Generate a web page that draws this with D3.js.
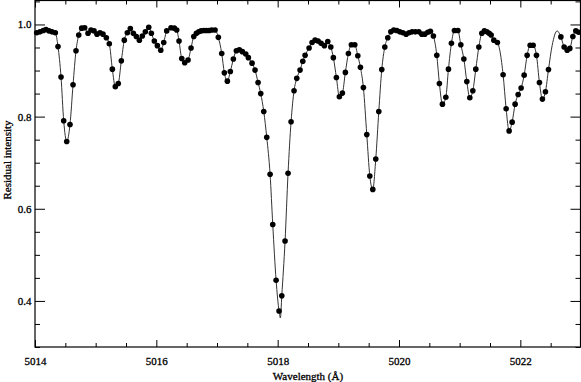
<!DOCTYPE html>
<html>
<head>
<meta charset="utf-8">
<script src="https://cdn.jsdelivr.net/npm/d3@7"></script>
<style>
  body { margin: 0; background: #fff; }
  svg { display: block; }
  .tick text, .title { font-family: "Liberation Serif", "DejaVu Serif", serif; font-size: 11px; fill: #000; stroke: #000; stroke-width: 0.3; }
  .tick line { stroke: #000; stroke-width: 1; }
</style>
</head>
<body>
<svg id="chart" width="581" height="382"></svg>
<script>
// observed spectrum, wavelength in Angstrom
var wave = [
  5014.028, 5014.082, 5014.137, 5014.181, 5014.231, 5014.280, 5014.335, 5014.379, 5014.429, 5014.473,
  5014.523, 5014.577, 5014.627, 5014.676, 5014.721, 5014.770, 5014.819, 5014.874, 5014.923, 5014.973,
  5015.022, 5015.072, 5015.121, 5015.176, 5015.225, 5015.275, 5015.324, 5015.373, 5015.423, 5015.472,
  5015.522, 5015.571, 5015.621, 5015.670, 5015.720, 5015.769, 5015.819, 5015.875, 5015.918, 5015.967,
  5016.017, 5016.073, 5016.122, 5016.171, 5016.242, 5016.297, 5016.336, 5016.374, 5016.419, 5016.468,
  5016.523, 5016.572, 5016.617, 5016.660, 5016.699, 5016.737, 5016.782, 5016.824, 5016.869, 5016.913,
  5016.968, 5017.022, 5017.078, 5017.121, 5017.171, 5017.220, 5017.270, 5017.319, 5017.368, 5017.418,
  5017.474, 5017.517, 5017.578, 5017.627, 5017.677, 5017.721, 5017.771, 5017.820, 5017.875, 5017.919,
  5017.974, 5018.023, 5018.068, 5018.122, 5018.171, 5018.221, 5018.270, 5018.315, 5018.369, 5018.414,
  5018.452, 5018.518, 5018.567, 5018.617, 5018.666, 5018.716, 5018.770, 5018.826, 5018.876, 5018.918,
  5018.968, 5019.017, 5019.067, 5019.116, 5019.166, 5019.215, 5019.271, 5019.321, 5019.364, 5019.413,
  5019.469, 5019.519, 5019.568, 5019.617, 5019.667, 5019.716, 5019.766, 5019.815, 5019.865, 5019.914,
  5019.964, 5020.013, 5020.063, 5020.117, 5020.167, 5020.216, 5020.270, 5020.327, 5020.376, 5020.425,
  5020.475, 5020.518, 5020.567, 5020.623, 5020.666, 5020.716, 5020.772, 5020.815, 5020.864, 5020.914,
  5020.970, 5021.019, 5021.069, 5021.118, 5021.167, 5021.217, 5021.266, 5021.316, 5021.365, 5021.408,
  5021.448, 5021.486, 5021.519, 5021.563, 5021.622, 5021.716, 5021.766, 5021.815, 5021.865, 5021.914,
  5021.964, 5022.013, 5022.063, 5022.112, 5022.162, 5022.211, 5022.266, 5022.315, 5022.364, 5022.414,
  5022.464, 5022.668, 5022.722, 5022.772, 5022.816, 5022.866, 5022.915, 5022.960
];
var flux = [
  0.982, 0.984, 0.987, 0.989, 0.986, 0.984, 0.982, 0.952, 0.886, 0.791,
  0.746, 0.783, 0.869, 0.943, 0.977, 0.992, 0.993, 0.981, 0.988, 0.986,
  0.979, 0.982, 0.979, 0.971, 0.958, 0.903, 0.865, 0.872, 0.921, 0.966,
  0.982, 0.991, 0.981, 0.974, 0.966, 0.975, 0.984, 0.994, 0.981, 0.964,
  0.954, 0.944, 0.961, 0.986, 0.993, 0.992, 0.988, 0.964, 0.926, 0.917,
  0.923, 0.949, 0.974, 0.981, 0.984, 0.986, 0.987, 0.987, 0.987, 0.988,
  0.988, 0.972, 0.937, 0.895, 0.877, 0.898, 0.925, 0.943, 0.945, 0.941,
  0.936, 0.928, 0.916, 0.901, 0.874, 0.850, 0.811, 0.755, 0.675, 0.566,
  0.445, 0.378, 0.411, 0.530, 0.677, 0.789, 0.856, 0.883, 0.901, 0.920,
  0.933, 0.949, 0.961, 0.966, 0.964, 0.959, 0.954, 0.963, 0.951, 0.928,
  0.885, 0.843, 0.851, 0.896, 0.937, 0.956, 0.956, 0.932, 0.907, 0.863,
  0.761, 0.671, 0.642, 0.708, 0.811, 0.902, 0.951, 0.971, 0.984, 0.988,
  0.987, 0.984, 0.982, 0.979, 0.982, 0.984, 0.984, 0.984, 0.979, 0.979,
  0.983, 0.985, 0.975, 0.933, 0.872, 0.827, 0.842, 0.903, 0.959, 0.987,
  0.987, 0.956, 0.925, 0.876, 0.841, 0.856, 0.903, 0.951, 0.981, 0.986,
  0.984, 0.981, 0.977, 0.966, 0.961, 0.891, 0.817, 0.769, 0.788, 0.827,
  0.848, 0.862, 0.890, 0.933, 0.955, 0.955, 0.933, 0.874, 0.838, 0.854,
  0.902, 0.973, 0.951, 0.944, 0.948, 0.974, 0.986, 0.983
];

// model points that differ from the observed ones (line core, gap in the data)
var modelExtraWave = [5014.000, 5018.045, 5022.524, 5022.607, 5023.000];
var modelExtraFlux = [0.983, 0.363, 0.954, 0.986, 0.982];

var xMajor = [5014, 5016, 5018, 5020, 5022];
var yMajor = [0.4, 0.6, 0.8, 1.0];

var svg = d3.select('#chart'),
	padLeft = 35, padRight = 581, padTop = 0.5, padBottom = 347,
	x = d3.scaleLinear().domain([5014, 5023]).range([padLeft, padRight]),
	y = d3.scaleLinear().domain([0.3, 1.052]).range([padBottom, padTop]);

var obs = wave.map(function(w, i) { return {w: w, f: flux[i]}; });
var model = obs.concat(modelExtraWave.map(function(w, i) { return {w: w, f: modelExtraFlux[i]}; }))
	.sort(function(a, b) { return a.w - b.w; });

var plot = svg.append('g');

plot.append('path')
	.datum(model)
	.attr('fill', 'none')
	.attr('stroke', '#333')
	.attr('stroke-width', 1)
	.attr('d', d3.line()
		.x(function(d) { return x(d.w); })
		.y(function(d) { return y(d.f); })
		.curve(d3.curveMonotoneX));

plot.selectAll('circle')
	.data(obs)
	.enter().append('circle')
		.attr('cx', function(d) { return x(d.w); })
		.attr('cy', function(d) { return y(d.f); })
		.attr('r', 2.8)
		.attr('fill', '#000');

// axes, ticks point inward on all four sides
var xMinor = x.ticks(18).filter(function(d) { return xMajor.indexOf(d) === -1; }),
	yMinor = y.ticks(15).filter(function(d) { return yMajor.indexOf(+d.toFixed(2)) === -1; });

function addAxis(axis, tr) {
	var g = svg.append('g').attr('transform', tr).call(axis);
	g.select('.domain').remove();
	return g;
}

addAxis(d3.axisBottom(x).tickValues(xMajor).tickSizeInner(-7).tickSizeOuter(0).tickPadding(10).tickFormat(d3.format('d')),
	'translate(0,' + padBottom + ')');
addAxis(d3.axisBottom(x).tickValues(xMinor).tickSizeInner(-4).tickSizeOuter(0).tickFormat(''),
	'translate(0,' + padBottom + ')');
addAxis(d3.axisTop(x).tickValues(xMajor).tickSizeInner(-7).tickSizeOuter(0).tickFormat(''),
	'translate(0,' + padTop + ')');
addAxis(d3.axisTop(x).tickValues(xMinor).tickSizeInner(-4).tickSizeOuter(0).tickFormat(''),
	'translate(0,' + padTop + ')');

addAxis(d3.axisLeft(y).tickValues(yMajor).tickSizeInner(-10).tickSizeOuter(0).tickPadding(3.5).tickFormat(d3.format('.1f')),
	'translate(' + padLeft + ',0)');
addAxis(d3.axisLeft(y).tickValues(yMinor).tickSizeInner(-5).tickSizeOuter(0).tickFormat(''),
	'translate(' + padLeft + ',0)');
addAxis(d3.axisRight(y).tickValues(yMajor).tickSizeInner(-10).tickSizeOuter(0).tickFormat(''),
	'translate(' + (padRight - 0.5) + ',0)');
addAxis(d3.axisRight(y).tickValues(yMinor).tickSizeInner(-5).tickSizeOuter(0).tickFormat(''),
	'translate(' + (padRight - 0.5) + ',0)');

svg.append('rect')
	.attr('x', padLeft)
	.attr('y', padTop)
	.attr('width', padRight - 0.5 - padLeft)
	.attr('height', padBottom - padTop)
	.attr('fill', 'none')
	.attr('stroke', '#000')
	.attr('stroke-width', 1.2);

svg.append('text')
	.attr('class', 'title')
	.attr('x', (padLeft + padRight) / 2)
	.attr('y', 380)
	.attr('text-anchor', 'middle')
	.text('Wavelength (Å)');

svg.append('text')
	.attr('class', 'title')
	.attr('transform', 'translate(11,160) rotate(-90)')
	.attr('text-anchor', 'middle')
	.text('Residual intensity');
</script>
</body>
</html>
